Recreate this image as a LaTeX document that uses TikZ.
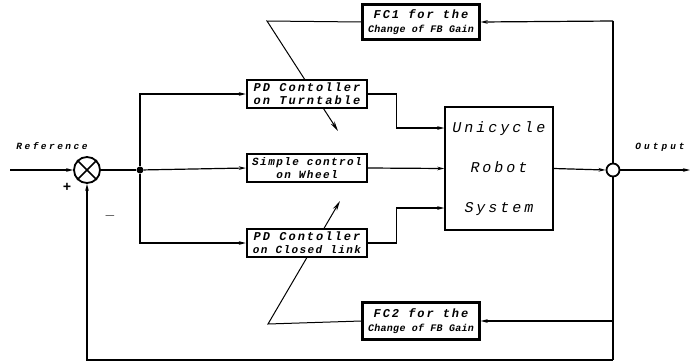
\documentclass[tikz,border=0pt]{standalone}
\usepackage{fontspec}
\newfontfamily\plotfont{Liberation Mono}
\usetikzlibrary{arrows.meta,positioning}
% plotter-like lettering: size, letter spacing, text
\newcommand{\pl}[3]{{\plotfont\bfseries\itshape\fontsize{#1}{#1}\selectfont\addfontfeature{LetterSpace=#2}#3}}
\tikzset{
  blockbox/.style={draw,line width=2.4pt,fill=white,minimum width=120pt,minimum height=28pt,inner sep=1pt,align=center,font=\fontsize{12}{13}\selectfont},
  fcbox/.style={blockbox,minimum width=117pt,minimum height=35pt,font=\fontsize{12}{14.5}\selectfont},
  sig/.style={-{Stealth[length=7pt,width=3.6pt]},line width=1.2pt},
  gain/.style={-{Stealth[length=10pt,width=4.5pt]},line width=1pt},
}
\begin{document}
\begin{tikzpicture}[x=1pt,y=-1pt]
\useasboundingbox (0,0) rectangle (696,362);
% summing point and branch
\node[circle,draw,line width=1.8pt,minimum size=26pt,inner sep=0] (sum) at (87,170) {};
\draw[line width=1.5pt] (sum.north west) -- (sum.south east) (sum.north east) -- (sum.south west);
\node[circle,fill,inner sep=0,minimum size=7pt] (branch) at (140,170) {};
\coordinate (refin) at (10,170);
\node at (52,146) {\pl{9.5}{26}{Reference}};
\node at (67,187) {\pl{14}{0}{+}};
\node at (110,216) {\fontsize{15}{15}\selectfont$-$};
% gain changers
\node[fcbox] (fcone) at (421,22) {\pl{12}{16}{FC1 for the}\\\pl{10}{3}{Change of FB Gain}};
\node[fcbox,minimum height=37pt] (fctwo) at (421,321) {\pl{12}{16}{FC2 for the}\\\pl{10}{3}{Change of FB Gain}};
\coordinate (kone) at (267,21);
\coordinate (ktwo) at (268,324);
\draw[gain] (fcone.west) -- (kone) -- (338,131);
\draw[gain] (fctwo.west) -- (ktwo) -- (340,201);
% controllers
\node[blockbox] (pdturn) at (307,94) {\pl{12}{17}{PD Contoller}\\\pl{12}{17}{on Turntable}};
\node[blockbox] (simple) at (307,168) {\pl{11}{13}{Simple control}\\\pl{11}{13}{on Wheel}};
\node[blockbox] (pdlink) at (307,243) {\pl{12}{17}{PD Contoller}\\\pl{11}{13}{on Closed link}};
% plant
\node[draw,line width=1.5pt,minimum width=108pt,minimum height=123pt,align=center,
  font=\plotfont\itshape\fontsize{15}{40}\selectfont\addfontfeature{LetterSpace=20}] (robot) at (499,168.5) {Unicycle\\Robot\\System};
\coordinate (inone) at (robot.west |- 0,128);
\coordinate (inthree) at (robot.west |- 0,208);
% output pick-off
\node[circle,draw,fill=white,line width=1.8pt,minimum size=13pt,inner sep=0] (pick) at (613,170) {};
\coordinate (tapup) at (613,21);
\coordinate (tapdn) at (613,360);
\coordinate (outend) at (690,170);
\node at (660,147) {\pl{9.5}{32}{Output}};
% signal lines
\draw[sig] (refin) -- (sum.west);
\draw[line width=1.2pt] (sum.east) -- (branch);
\draw[sig] (branch) |- (pdturn.west);
\draw[sig] (branch) -- (simple.west);
\draw[sig] (branch) |- (pdlink.west);
\draw[sig] (pdturn.east) -- ++(28,0) |- (inone);
\draw[sig] (simple.east) -- (robot.west);
\draw[sig] (pdlink.east) -- ++(28,0) |- (inthree);
\draw[sig] (robot.east) -- (pick.west);
\draw[sig] (pick.east) -- (outend);
\draw[line width=1.2pt] (pick.north) -- (tapup);
\draw[line width=1.2pt] (pick.south) -- (tapdn);
\draw[sig] (tapup) -- (fcone.east);
\draw[sig] (tapup |- fctwo.east) -- (fctwo.east);
\draw[sig] (tapdn) -| (sum.south);
\end{tikzpicture}
\end{document}
